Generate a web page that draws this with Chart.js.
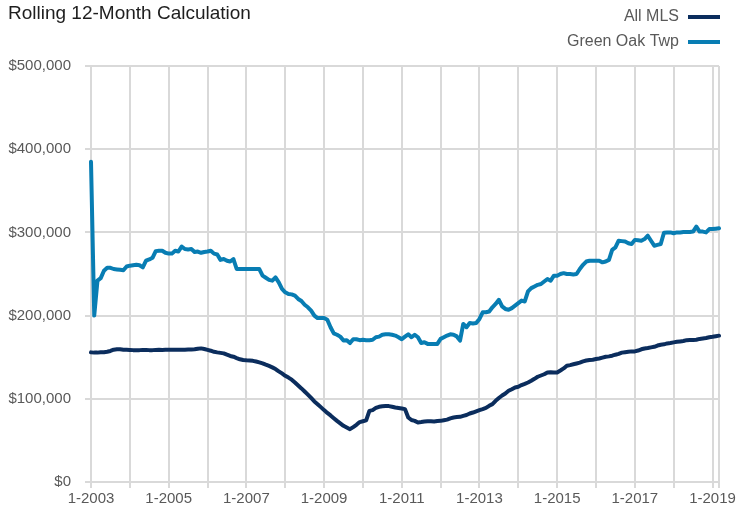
<!DOCTYPE html>
<html>
<head>
<meta charset="utf-8">
<script src="https://cdn.jsdelivr.net/npm/chart.js@4/dist/chart.umd.min.js"></script>
<style>html,body{margin:0;padding:0;background:#fff;overflow:hidden}</style>
</head>
<body>
<canvas id="c" width="736" height="515"></canvas>
<script>
// ---- data (values in thousands of dollars, monthly from 1-2003 to 3-2019) ----
const startYear = 2003;
const monthCount = 195;
const titleText = 'Rolling 12-Month Calculation';
const seriesNames = ['All MLS', 'Green Oak Twp'];
const yTicks = [0, 100000, 200000, 300000, 400000, 500000];

const allMLS = [
  155.8,155.5,155.5,156,156,156.5,157.5,159,159.5,159.5,159,159,
  158.8,158.5,158.5,158.5,158.8,158.8,158.5,158.5,158.8,159,158.8,159,
  159,159,159,159,159,159,159.2,159.2,159.5,160.2,160.6,159.8,
  158.8,157.8,156.5,155.8,155.2,154.6,153,151.5,150.6,149,147.5,146.6,
  146.2,146,145.6,144.8,143.8,142.6,141,139.5,137.8,135.8,133,130.5,
  127.7,125.5,123,119.6,116,112.5,108.8,105,101,96.8,93.5,90,
  86.4,83,80,76.7,73.5,70.5,67.5,65.5,63.5,66,68.7,72,
  73,74,85.5,86.4,89,90.4,91,91.2,91.2,90.5,89.6,89,
  88.4,87.6,77.5,74.5,73.5,71.5,72,72.6,73,73,72.8,73.3,
  73.5,74.3,75,76.5,77.5,78,78.3,79.5,80.5,82.3,83.5,85,
  86.4,87.6,89,91.6,93.6,97.6,101,104,106.4,109.6,111.5,113.6,
  114.5,116.5,118,119.6,121.7,124,126.5,128,129.5,131.7,132,131.7,
  131.7,134,136.5,139.8,140.5,141.5,142.5,143.5,145,146,146.6,147,
  147.8,148.5,149.5,150.5,151,151.8,153,154,155.5,156,156.5,157,
  157,158,159.5,160.5,161,161.8,162.5,164,165,165.5,166.6,167,
  167.8,168.5,169,169.5,170.5,170.7,170.7,171,172,172.5,173,173.9,
  174.5,175.2,175.9
];

const greenOak = [
  385,200,242,245,254,257.5,257.5,256,255.5,255,254.5,259,
  260,260.5,261,260.5,258,266,267.5,269.5,277.5,278,278,275.5,
  274.5,274.5,278,277,283,280,279.5,280,276.5,277,275.5,276.5,
  277,278,274.5,273.5,267,268,266,265,268,256,256,256,
  256,256,256,256,256,248,245.5,243,242,246,240,232,
  228,226,225.5,224,220,217.5,213,210,206,200,197,197,
  197,195,186,178.7,177,174.7,170,170.5,167,171.6,171.6,170.5,
  171,170.5,170.5,171,174,174.7,177,177.5,177.5,177,176,174,
  171.6,174.7,177.5,174,177,174,167,168,166,166,166,166,
  172,174,176,177.5,177,175,170,190,186,191,190.5,191,
  196,204,204,205,210,214,219,211,208,207,209,212,
  215,218,217,229,233,235,237,238,241,244,242,248,
  248,250,251,250,250,249.5,250,256,261,265,266,266,
  266,266,264,265,267,279,282,290,289.5,289,287,286,
  291,290.5,290,292,296,290,284,285,286,299.6,300,300,
  299,300,300,300.5,300.5,300.5,301,307,301,301,300,304,
  304,304.5,305
];

// category labels "M-YYYY"
const monthLabels = [];
for (let i = 0; i < monthCount; i++) {
  monthLabels.push((i % 12 + 1) + '-' + (startYear + Math.floor(i / 12)));
}

const NAVY = '#0b2d5d';
const BLUE = '#087db3';
const GRID = '#d9d9d9';
const TEXT = '#595959';
const FONT = "'Liberation Sans', Arial, sans-serif";

const headerPlugin = {
  id: 'header',
  afterDraw(chart) {
    const ctx = chart.ctx;
    ctx.save();
    ctx.font = '19px ' + FONT;
    ctx.fillStyle = '#1e1e1e';
    ctx.textAlign = 'left';
    ctx.textBaseline = 'alphabetic';
    ctx.fillText(titleText, 8, 19);
    ctx.font = '16px ' + FONT;
    ctx.fillStyle = TEXT;
    ctx.textAlign = 'right';
    ctx.textBaseline = 'middle';
    const rows = [17, 42];
    chart.data.datasets.forEach((ds, k) => {
      const y = rows[k];
      ctx.fillText(ds.label, 679, y);
      ctx.strokeStyle = ds.borderColor;
      ctx.lineWidth = 4;
      ctx.beginPath();
      ctx.moveTo(688, y);
      ctx.lineTo(720, y);
      ctx.stroke();
    });
    ctx.restore();
  }
};

new Chart(document.getElementById('c'), {
  type: 'line',
  data: {
    labels: monthLabels,
    datasets: [
      { label: seriesNames[0], data: allMLS.map(v => v * 1000), borderColor: NAVY, backgroundColor: NAVY },
      { label: seriesNames[1], data: greenOak.map(v => v * 1000), borderColor: BLUE, backgroundColor: BLUE }
    ]
  },
  options: {
    responsive: false,
    animation: false,
    devicePixelRatio: 1,
    layout: { padding: { left: 8, right: 17, top: 66, bottom: 5 } },
    elements: {
      point: { radius: 0 },
      line: { borderWidth: 4, tension: 0, borderJoinStyle: 'round', borderCapStyle: 'round' }
    },
    plugins: { legend: { display: false }, title: { display: false }, tooltip: { enabled: false } },
    scales: {
      x: {
        type: 'category',
        border: { display: false },
        grid: {
          color: c => (c.index % 12 === 0 || c.index === monthCount - 1) ? GRID : 'rgba(0,0,0,0)',
          lineWidth: 2,
          tickLength: 6
        },
        ticks: {
          autoSkip: false,
          maxRotation: 0,
          minRotation: 0,
          padding: 2,
          color: TEXT,
          font: { family: FONT, size: 15 },
          callback: (v, i) => (i % 24 === 0 ? monthLabels[i] : '')
        }
      },
      y: {
        min: 0,
        max: 500000,
        border: { display: false },
        grid: { color: GRID, lineWidth: 2, tickLength: 6 },
        afterBuildTicks: s => { s.ticks = yTicks.map(v => ({ value: v })); },
        afterFit: s => { s.width = 83; },
        ticks: {
          padding: 14,
          color: TEXT,
          font: { family: FONT, size: 15 },
          callback: v => '$' + Number(v).toLocaleString('en-US')
        }
      }
    }
  },
  plugins: [headerPlugin]
});
</script>
</body>
</html>
